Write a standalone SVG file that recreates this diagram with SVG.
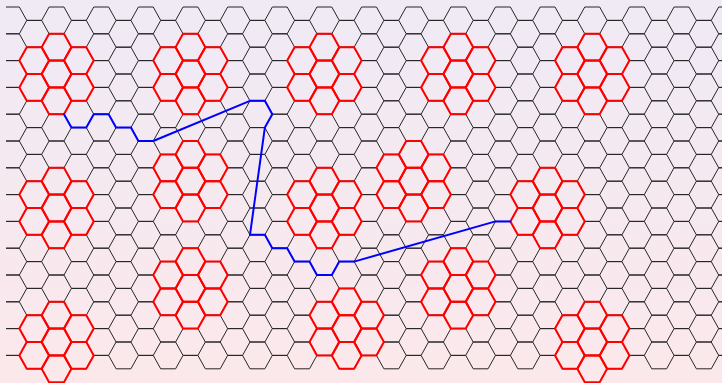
<svg xmlns="http://www.w3.org/2000/svg" xmlns:xlink="http://www.w3.org/1999/xlink" width="722" height="383" viewBox="0 0 722 383">
<defs>
<linearGradient id="bg" x1="0" y1="0" x2="0" y2="1">
<stop offset="0" stop-color="#efeaf5"/>
<stop offset="1" stop-color="#fce8eb"/>
</linearGradient>
<clipPath id="clipL"><rect x="6" y="0" width="716" height="383"/></clipPath>
<path id="z" d="M-40.18 0h14.88l7.44 13.4h14.88l7.44 -13.4h14.88l7.44 13.4h14.88l7.44 -13.4h14.88l7.44 13.4h14.88l7.44 -13.4h14.88l7.44 13.4h14.88l7.44 -13.4h14.88l7.44 13.4h14.88l7.44 -13.4h14.88l7.44 13.4h14.88l7.44 -13.4h14.88l7.44 13.4h14.88l7.44 -13.4h14.88l7.44 13.4h14.88l7.44 -13.4h14.88l7.44 13.4h14.88l7.44 -13.4h14.88l7.44 13.4h14.88l7.44 -13.4h14.88l7.44 13.4h14.88l7.44 -13.4h14.88l7.44 13.4h14.88l7.44 -13.4h14.88l7.44 13.4h14.88l7.44 -13.4h14.88l7.44 13.4h14.88l7.44 -13.4h14.88l7.44 13.4h14.88l7.44 -13.4h14.88l7.44 13.4h14.88l7.44 -13.4h14.88l7.44 13.4h14.88l7.44 -13.4h14.88l7.44 13.4h14.88l7.44 -13.4"/>
<path id="hx" d="M-14.88 0L-7.44 -13.4L7.44 -13.4L14.88 0L7.44 13.4L-7.44 13.4Z"/>
<g id="flower">
<use xlink:href="#hx" x="0" y="0"/>
<use xlink:href="#hx" x="0" y="-26.8"/>
<use xlink:href="#hx" x="0" y="26.8"/>
<use xlink:href="#hx" x="-22.32" y="-13.4"/>
<use xlink:href="#hx" x="-22.32" y="13.4"/>
<use xlink:href="#hx" x="22.32" y="-13.4"/>
<use xlink:href="#hx" x="22.32" y="13.4"/>
</g>
</defs>
<style>
.grid use{fill:none;stroke:#262626;stroke-width:1}
.red{fill:none;stroke:#ff0000;stroke-width:2;stroke-linejoin:round}
.path{fill:none;stroke:#0000ff;stroke-width:2;stroke-linejoin:round;stroke-linecap:round}
</style>
<rect width="722" height="383" fill="url(#bg)"/>
<g id="grid" class="grid" clip-path="url(#clipL)">
<use xlink:href="#z" x="0" y="7"/>
<use xlink:href="#z" x="22.32" y="20.4"/>
<use xlink:href="#z" x="0" y="33.8"/>
<use xlink:href="#z" x="22.32" y="47.2"/>
<use xlink:href="#z" x="0" y="60.6"/>
<use xlink:href="#z" x="22.32" y="74"/>
<use xlink:href="#z" x="0" y="87.4"/>
<use xlink:href="#z" x="22.32" y="100.8"/>
<use xlink:href="#z" x="0" y="114.2"/>
<use xlink:href="#z" x="22.32" y="127.6"/>
<use xlink:href="#z" x="0" y="141"/>
<use xlink:href="#z" x="22.32" y="154.4"/>
<use xlink:href="#z" x="0" y="167.8"/>
<use xlink:href="#z" x="22.32" y="181.2"/>
<use xlink:href="#z" x="0" y="194.6"/>
<use xlink:href="#z" x="22.32" y="208"/>
<use xlink:href="#z" x="0" y="221.4"/>
<use xlink:href="#z" x="22.32" y="234.8"/>
<use xlink:href="#z" x="0" y="248.2"/>
<use xlink:href="#z" x="22.32" y="261.6"/>
<use xlink:href="#z" x="0" y="275"/>
<use xlink:href="#z" x="22.32" y="288.4"/>
<use xlink:href="#z" x="0" y="301.8"/>
<use xlink:href="#z" x="22.32" y="315.2"/>
<use xlink:href="#z" x="0" y="328.6"/>
<use xlink:href="#z" x="22.32" y="342"/>
<use xlink:href="#z" x="0" y="355.4"/>
</g>
<g id="clusters" class="red">
<use id="cluster1" xlink:href="#flower" x="56.54" y="74"/>
<use id="cluster2" xlink:href="#flower" x="190.46" y="74"/>
<use id="cluster3" xlink:href="#flower" x="324.38" y="74"/>
<use id="cluster4" xlink:href="#flower" x="458.3" y="74"/>
<use id="cluster5" xlink:href="#flower" x="592.22" y="74"/>
<use id="cluster6" xlink:href="#flower" x="56.54" y="208"/>
<use id="cluster7" xlink:href="#flower" x="190.46" y="181.2"/>
<use id="cluster8" xlink:href="#flower" x="324.38" y="208"/>
<use id="cluster9" xlink:href="#flower" x="413.66" y="181.2"/>
<use id="cluster10" xlink:href="#flower" x="547.58" y="208"/>
<use id="cluster11" xlink:href="#flower" x="56.54" y="342"/>
<use id="cluster12" xlink:href="#flower" x="190.46" y="288.4"/>
<use id="cluster13" xlink:href="#flower" x="346.7" y="328.6"/>
<use id="cluster14" xlink:href="#flower" x="458.3" y="288.4"/>
<use id="cluster15" xlink:href="#flower" x="592.22" y="342"/>
</g>
<g id="connectors">
<polyline class="path" points="63.98,114.2 71.42,127.6 86.3,127.6 93.74,114.2 108.62,114.2 116.06,127.6 130.94,127.6 138.38,141 153.26,141 249.98,100.8 264.86,100.8 272.3,114.2 264.86,127.6 249.98,234.8 264.86,234.8 272.3,248.2 287.18,248.2 294.62,261.6 309.5,261.6 316.94,275 331.82,275 339.26,261.6 354.14,261.6 495.5,221.4 510.38,221.4"/>
</g>
</svg>
